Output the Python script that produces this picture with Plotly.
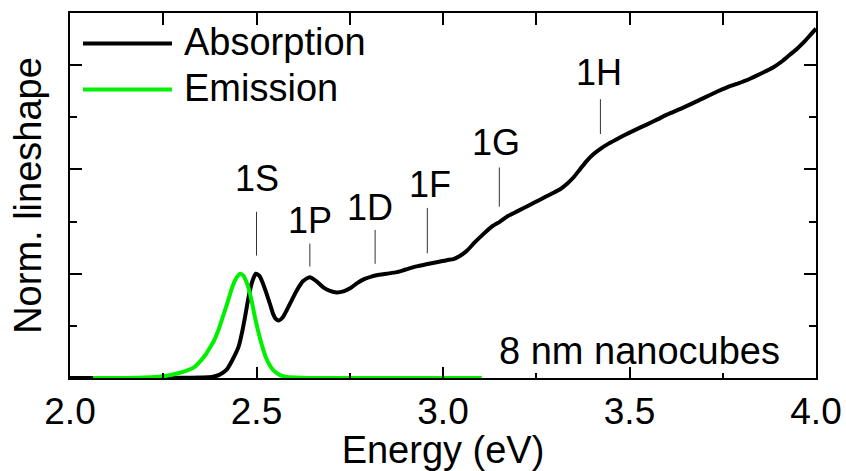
import plotly.graph_objects as go

# ---------------- data ----------------
abs_energy = [2.00, 2.10, 2.20, 2.30, 2.35, 2.38, 2.40, 2.42, 2.435, 2.452, 2.462,
              2.470, 2.480, 2.490, 2.498, 2.508, 2.518, 2.527, 2.537, 2.545, 2.552,
              2.560, 2.570, 2.581, 2.595, 2.608, 2.625, 2.643, 2.660, 2.679, 2.697,
              2.715, 2.733, 2.751, 2.770, 2.790, 2.810, 2.822, 2.849, 2.876, 2.900,
              2.929, 2.955, 2.983, 3.010, 3.028, 3.045, 3.064, 3.085, 3.108, 3.130,
              3.153, 3.175, 3.200, 3.230, 3.260, 3.290, 3.314, 3.332, 3.349, 3.367,
              3.385, 3.403, 3.421, 3.445, 3.466, 3.490, 3.510, 3.546, 3.575, 3.600,
              3.644, 3.690, 3.734, 3.760, 3.787, 3.820, 3.850, 3.870, 3.886, 3.910,
              3.930, 3.950, 3.966, 3.985, 4.000]
abs_value = [0.0, 0.0, 0.0, 0.002, 0.005, 0.01, 0.03, 0.08, 0.17, 0.30, 0.45,
             0.60, 0.80, 0.94, 1.0, 0.98, 0.90, 0.81, 0.70, 0.61, 0.565,
             0.552, 0.58, 0.65, 0.75, 0.84, 0.93, 0.967, 0.93, 0.87, 0.835,
             0.82, 0.83, 0.86, 0.91, 0.95, 0.975, 0.985, 1.00, 1.015, 1.04,
             1.07, 1.09, 1.11, 1.13, 1.14, 1.17, 1.22, 1.30, 1.38, 1.45,
             1.50, 1.555, 1.60, 1.655, 1.71, 1.765, 1.81, 1.86, 1.92, 2.00,
             2.08, 2.145, 2.195, 2.25, 2.29, 2.335, 2.37, 2.43, 2.48, 2.525,
             2.593, 2.67, 2.745, 2.785, 2.82, 2.865, 2.915, 2.95, 2.98, 3.04,
             3.10, 3.16, 3.215, 3.29, 3.35]

em_energy = [2.062, 2.15, 2.20, 2.25, 2.295, 2.313, 2.335, 2.349, 2.365, 2.375,
             2.385, 2.398, 2.411, 2.422, 2.433, 2.443, 2.451, 2.457, 2.465, 2.472,
             2.478, 2.487, 2.496, 2.505, 2.514, 2.525, 2.536, 2.545, 2.563, 2.581,
             2.62, 2.70, 3.104]
em_value = [0.0, 0.001, 0.004, 0.016, 0.05, 0.07, 0.11, 0.16, 0.23, 0.29,
            0.35, 0.46, 0.60, 0.72, 0.85, 0.94, 0.985, 1.0, 0.98, 0.93,
            0.87, 0.74, 0.58, 0.44, 0.32, 0.20, 0.12, 0.075, 0.028, 0.01,
            0.003, 0.0, 0.0]

peak_names = ["1S", "1P", "1D", "1F", "1G", "1H"]
peak_energy = [2.50, 2.643, 2.818, 2.958, 3.151, 3.422]

x_ticks = [2.0, 2.5, 3.0, 3.5, 4.0]
x_tick_labels = ["2.0", "2.5", "3.0", "3.5", "4.0"]

# ---------------- layout helpers (positions, not data) ----------------
marker_line_bottom = [1.174, 1.069, 1.095, 1.196, 1.643, 2.339]
marker_line_top = [1.594, 1.289, 1.420, 1.631, 2.019, 2.674]
label_y = [1.911, 1.509, 1.633, 1.854, 2.255, 2.925]
label_dx = [0.0, 0.0, -0.015, 0.008, -0.01, -0.004]

FONT = "Liberation Sans, Arial, sans-serif"
FS = 38       # titles, legend, sample text
FS_TICK = 37  # tick labels
FS_PEAK = 36  # peak labels
GREEN = "#00F000"
LW = 4

fig = go.Figure()
fig.add_trace(go.Scatter(x=abs_energy, y=abs_value, mode="lines", name="Absorption",
                         line=dict(color="black", width=LW, shape="spline", smoothing=0.6),
                         showlegend=False))
fig.add_trace(go.Scatter(x=em_energy, y=em_value, mode="lines", name="Emission",
                         line=dict(color=GREEN, width=LW, shape="spline", smoothing=0.6),
                         showlegend=False))
# invisible trace to carry the top tick axis
fig.add_trace(go.Scatter(x=[2.0, 4.0], y=[0, 0], xaxis="x2", mode="lines",
                         line=dict(width=0), opacity=0, hoverinfo="skip", showlegend=False))

shapes = []
annotations = []
for name, e, y0, y1, ly, dx in zip(peak_names, peak_energy, marker_line_bottom,
                                   marker_line_top, label_y, label_dx):
    shapes.append(dict(type="line", xref="x", yref="y", x0=e, x1=e, y0=y0, y1=y1,
                       line=dict(color="#333333", width=1)))
    annotations.append(dict(text=name, x=e + dx, y=ly, xref="x", yref="y",
                            showarrow=False, xanchor="center", yanchor="middle",
                            font=dict(family=FONT, size=FS_PEAK, color="black")))

# manual legend (long line samples)
legend_items = [("Absorption", "black", 0.9165), ("Emission", GREEN, 0.7905)]
for label, color, ypos in legend_items:
    shapes.append(dict(type="line", xref="paper", yref="paper", x0=0.0174, x1=0.1367,
                       y0=ypos, y1=ypos, line=dict(color=color, width=LW)))
    annotations.append(dict(text=label, x=0.150, y=ypos + 0.004, xref="paper", yref="paper",
                            showarrow=False, xanchor="left", yanchor="middle",
                            font=dict(family=FONT, size=FS, color="black")))

annotations.append(dict(text="8 nm nanocubes", x=0.9545, y=0.075, xref="paper", yref="paper",
                        showarrow=False, xanchor="right", yanchor="middle",
                        font=dict(family=FONT, size=FS, color="black")))

fig.update_layout(
    width=846, height=471,
    margin=dict(l=70, r=30, t=13, b=93, pad=0),
    paper_bgcolor="white", plot_bgcolor="white",
    font=dict(family=FONT, size=FS, color="black"),
    shapes=shapes, annotations=annotations,
    xaxis=dict(range=[2.0, 4.0], tickmode="array", tickvals=x_ticks, ticktext=x_tick_labels,
               ticks="inside", ticklen=11, tickwidth=2, tickcolor="black",
               minor=dict(dtick=0.25, ticks="inside", ticklen=5, tickwidth=2, tickcolor="black"),
               showline=True, linewidth=2, linecolor="black", mirror=True,
               showgrid=False, zeroline=False,
               title=dict(text="Energy (eV)", standoff=2, font=dict(size=FS)),
               tickfont=dict(size=FS_TICK), automargin=False),
    xaxis2=dict(range=[2.0, 4.0], overlaying="x", side="top", dtick=0.25, tick0=2.0,
                ticks="inside", ticklen=12, tickwidth=2, tickcolor="black",
                showticklabels=False, showline=False, showgrid=False, zeroline=False),
    yaxis=dict(range=[0, 3.5], dtick=1, tick0=0, ticks="inside", ticklen=12, tickwidth=2,
               tickcolor="black",
               minor=dict(dtick=0.5, ticks="inside", ticklen=7, tickwidth=2, tickcolor="black"),
               showticklabels=False, showline=True, linewidth=2, linecolor="black",
               mirror="ticks", showgrid=False, zeroline=False,
               title=dict(text="Norm. lineshape", standoff=15, font=dict(size=FS)),
               automargin=False),
)

fig.write_html("out.html")
